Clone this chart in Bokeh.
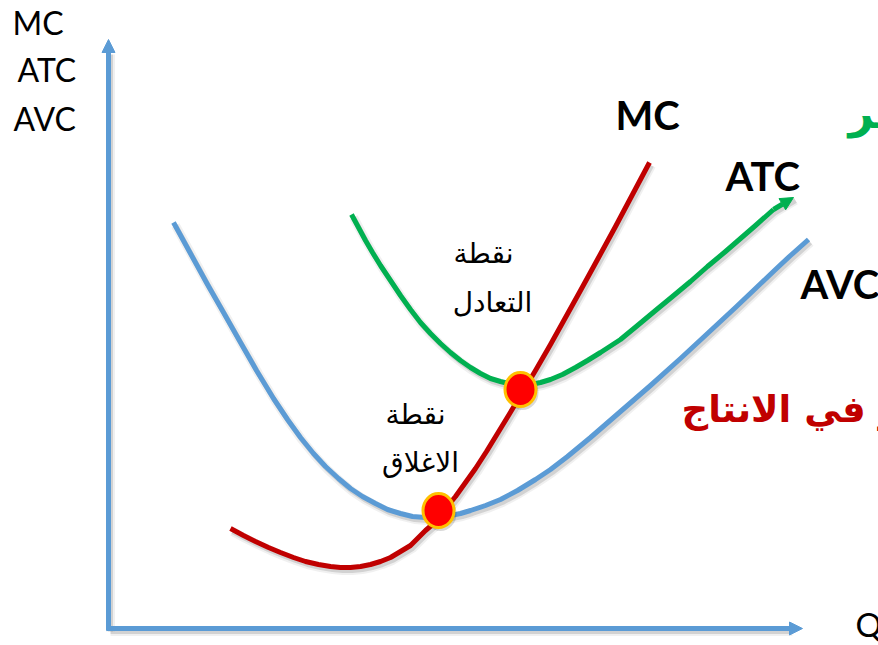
from bokeh.plotting import figure
from bokeh.models import Range1d, Arrow, NormalHead
from bokeh.core.properties import value
from bokeh.embed import file_html
from bokeh.resources import INLINE

# ---- data (Q = quantity, cost = per-unit cost) ----
avc_q = [65, 82, 99, 115, 132, 148, 165, 179, 192, 205, 217, 230, 242, 254, 267, 279, 292, 304,
         317, 329, 342, 352, 362, 377, 392, 409, 427, 442, 459, 482, 512, 542, 572, 599, 627, 647,
         667, 682, 700]
avc_cost = [406, 375, 344, 316, 286, 258, 230, 209, 191, 175, 162, 150, 140, 132, 125, 119, 115, 112,
            111, 111, 113, 115, 118, 123, 129, 138, 149, 159, 172, 191, 217, 243, 270, 295, 321, 340,
            359, 373, 389]

mc_q = [122, 135, 147, 160, 172, 185, 197, 210, 222, 232, 242, 252, 262, 272, 282, 292, 302, 310,
        317, 324, 330, 338, 347, 357, 367, 378, 389, 400, 412, 427, 442, 457, 472, 489, 507, 524, 541]
mc_cost = [100, 93, 87, 81, 76, 71, 67, 64, 62, 61, 61, 62, 64, 67, 71, 77, 83, 91,
           98, 104, 111, 121, 132, 146, 160, 177, 195, 213, 233, 258, 284, 311, 338, 369, 402, 434, 466]

atc_q = [243, 250, 257, 264, 272, 282, 292, 302, 312, 322, 332, 342, 352, 362, 372, 382, 392, 400,
         407, 414, 422, 432, 442, 454, 467, 479, 492, 512, 529, 547, 564, 582, 599, 617, 632, 647,
         665, 685]
atc_cost = [414, 401, 388, 376, 363, 348, 333, 319, 306, 295, 285, 276, 268, 261, 255, 250, 247, 245,
            244, 244, 244, 246, 249, 254, 261, 268, 276, 289, 303, 318, 332, 347, 362, 377, 390, 403,
            419, 431]

# shutdown point (MC = min AVC) and break-even point (MC = min ATC)
point_q = [330, 412]
point_cost = [118, 239]

axis_q_max = 694
axis_cost_max = 589

left_labels = ["MC", "ATC", "AVC"]
curve_labels = ["MC", "ATC", "AVC"]
point_labels = ["نقطة", "التعادل", "نقطة", "الاغلاق"]
red_text = "تستمر في الانتاج"
green_text = "تستمر"

BLUE = "#5B9BD5"
RED = "#C00000"
GREEN = "#00B050"

p = figure(width=878, height=645, x_range=Range1d(-108, 770), y_range=Range1d(-17, 628),
           output_backend="svg", toolbar_location=None, min_border=0,
           x_axis_type=None, y_axis_type=None)
p.grid.visible = False
p.outline_line_color = None
p.background_fill_color = "white"
p.border_fill_color = "white"


def shadow(xs, ys, w):
    sx = [v + 2 for v in xs]
    sy = [v - 3 for v in ys]
    p.line(sx, sy, line_color="black", line_alpha=0.06, line_width=w + 4, line_cap="butt", line_join="round")
    p.line(sx, sy, line_color="black", line_alpha=0.12, line_width=w, line_cap="butt", line_join="round")


# axes drawn as arrows
shadow([0, 0], [0, axis_cost_max - 12], 5)
shadow([0, axis_q_max - 12], [0, 0], 5)
p.add_layout(Arrow(end=NormalHead(size=13, fill_color=BLUE, line_color=BLUE, line_width=1),
                   x_start=0, y_start=-2, x_end=0, y_end=axis_cost_max,
                   line_color=BLUE, line_width=5))
p.add_layout(Arrow(end=NormalHead(size=13, fill_color=BLUE, line_color=BLUE, line_width=1),
                   x_start=-2, y_start=0, x_end=axis_q_max, y_end=0,
                   line_color=BLUE, line_width=5))

# curves
for xs, ys in [(avc_q, avc_cost), (atc_q, atc_cost), (mc_q, mc_cost)]:
    shadow(xs, ys, 5)
p.line(avc_q, avc_cost, line_color=BLUE, line_width=5, line_cap="butt", line_join="round")
p.line(atc_q[:-1], atc_cost[:-1], line_color=GREEN, line_width=5, line_cap="butt", line_join="round")
p.add_layout(Arrow(end=NormalHead(size=13, fill_color=GREEN, line_color=GREEN, line_width=1),
                   x_start=atc_q[-2], y_start=atc_cost[-2], x_end=atc_q[-1], y_end=atc_cost[-1],
                   line_color=GREEN, line_width=5))
p.line(mc_q, mc_cost, line_color=RED, line_width=5, line_cap="butt", line_join="round")

# points
p.ellipse([q + 2 for q in point_q], [c - 3 for c in point_cost], width=32, height=35,
          fill_color="black", fill_alpha=0.15, line_color=None)
p.ellipse(point_q, point_cost, width=31, height=34, fill_color="#FF0000",
          line_color="#FFC000", line_width=3)

# vertical axis title
p.text(x=[-96, -91, -95], y=[606, 559, 510], text=left_labels,
       text_font=value("Lato"), text_font_size="32px", text_color="black",
       text_align="left", text_baseline="middle")
# horizontal axis title
p.text(x=[747], y=[5], text=["Q"], text_font=value("Lato"), text_font_size="33px",
       text_color="black", text_align="left", text_baseline="middle")

# curve labels
p.text(x=[507, 617, 692], y=[514, 453, 345], text=curve_labels,
       text_font=value("Lato"), text_font_size="40px", text_font_style="bold",
       text_color="black", text_align="left", text_baseline="middle")

# point annotations (Arabic)
p.text(x=[375, 384, 307, 312], y=[375, 326, 214, 166], text=point_labels,
       text_font=value("DejaVu Sans"), text_font_size="28px", text_color="black",
       text_align="center", text_baseline="middle")

# slide texts cut off at the right edge
p.text(x=[573], y=[219], text=[red_text], text_font=value("DejaVu Sans"),
       text_font_size="37px", text_font_style="bold", text_color=RED,
       text_align="left", text_baseline="middle")
p.text(x=[740], y=[516], text=[green_text], text_font=value("DejaVu Sans"),
       text_font_size="44px", text_font_style="bold", text_color=GREEN,
       text_align="left", text_baseline="middle")

open("out.html", "w").write(file_html(p, INLINE))
